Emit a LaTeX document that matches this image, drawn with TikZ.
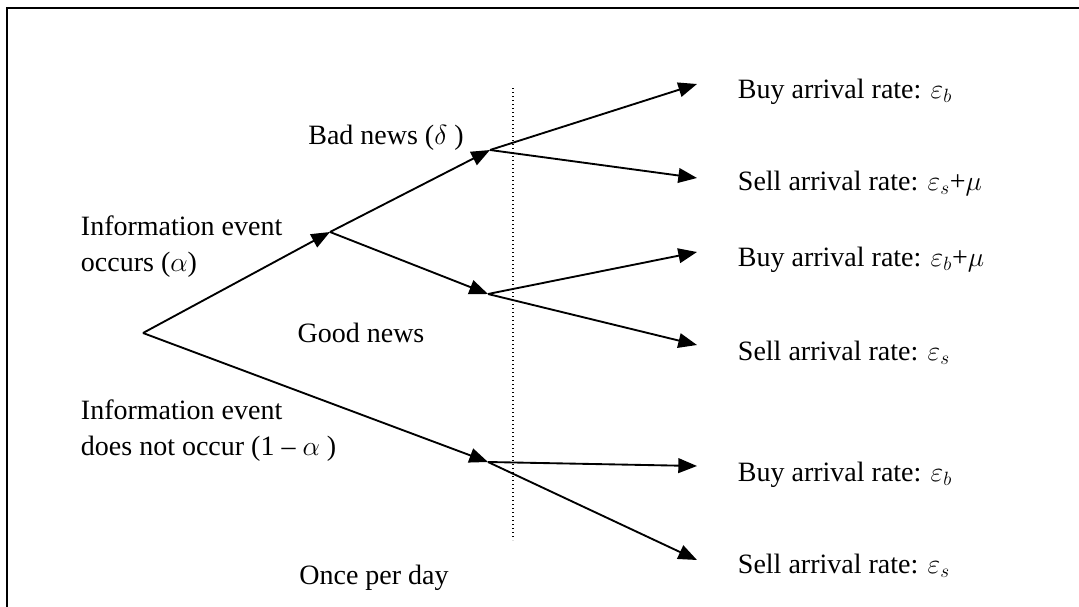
\documentclass[tikz,border=0pt]{standalone}
\usepackage{fontspec}
\setmainfont{Liberation Serif}
\usetikzlibrary{arrows.meta}

\tikzset{
  branch/.style={-{Triangle[length=14pt,width=11pt]}},
  lbl/.style={font=\fontsize{21}{27}\selectfont, inner sep=0pt},
}

\begin{document}
\begin{tikzpicture}[x=0.75pt,y=-0.75pt,line width=1.4pt]

  \useasboundingbox (0,0) rectangle (1079,607);

  % Frame
  \draw[line width=2.2pt] (7,607) -- (7,8) -- (1079,8);

  % Branch points
  \coordinate (root) at (143,333);
  \coordinate (occ)  at (330,232);
  \coordinate (bad)  at (490,150);
  \coordinate (good) at (488,294);
  \coordinate (nocc) at (488,462);

  % Arrow ends
  \coordinate (e1) at (697,84);  \coordinate (e2) at (697,178);
  \coordinate (e3) at (697,252); \coordinate (e4) at (697,345);
  \coordinate (e5) at (697,466); \coordinate (e6) at (697,560);

  % Labels
  \node[lbl,anchor=west] (occlbl) at (80,246) {\begin{tabular}{@{}l@{}}Information event\\ occurs ($\alpha$)\end{tabular}};
  \node[lbl,anchor=west] (nocclbl) at (80,430) {\begin{tabular}{@{}l@{}}Information event\\ does not occur (1 -- $\alpha$ )\end{tabular}};
  \node[lbl] (badlbl) at (386,138) {Bad news ($\delta$ )};
  \node[lbl] (goodlbl) at (361,333) {Good news};
  \node[lbl] (daylbl) at (374,578) {Once per day};

  \node[lbl,anchor=west] (b1) at (737,92)  {Buy arrival rate: $\varepsilon_b$};
  \node[lbl,anchor=west] (s1) at (737,183) {Sell arrival rate: $\varepsilon_s$+$\mu$};
  \node[lbl,anchor=west] (b2) at (737,260) {Buy arrival rate: $\varepsilon_b$+$\mu$};
  \node[lbl,anchor=west] (s2) at (737,353) {Sell arrival rate: $\varepsilon_s$};
  \node[lbl,anchor=west] (b3) at (737,475) {Buy arrival rate: $\varepsilon_b$};
  \node[lbl,anchor=west] (s3) at (737,566) {Sell arrival rate: $\varepsilon_s$};

  % Tree
  \draw[branch] (root) -- (occ);
  \draw[branch] (root) -- (nocc);
  \draw[branch] (occ) -- (bad);
  \draw[branch] (occ) -- (good);
  \foreach \s/\a/\b in {bad/e1/e2, good/e3/e4, nocc/e5/e6} {
    \draw[branch] (\s) -- (\a);
    \draw[branch] (\s) -- (\b);
  }

  % Divider
  \draw[line width=1pt, dotted] (513,88) -- (513,540);

\end{tikzpicture}
\end{document}
